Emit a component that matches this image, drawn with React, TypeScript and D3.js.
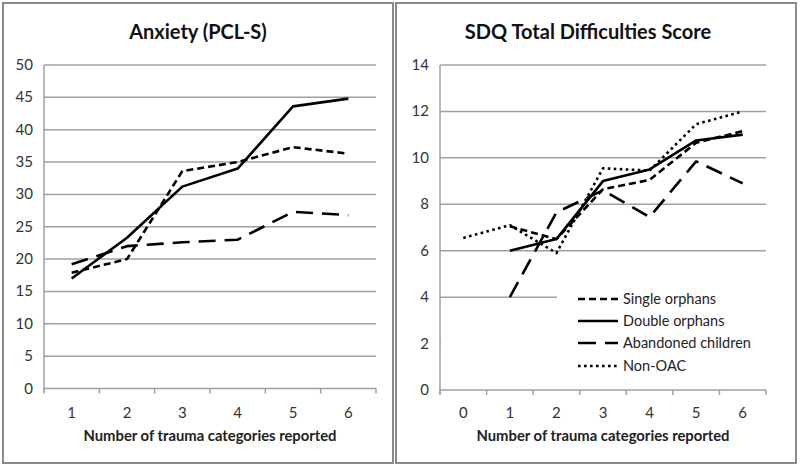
import React from "react";
import * as d3 from "d3";

const leftCategories = [1, 2, 3, 4, 5, 6];
const leftSingle = [17.9, 20.0, 33.6, 35.0, 37.3, 36.3];
const leftDouble = [17.0, 23.3, 31.2, 34.0, 43.6, 44.8];
const leftAbandoned = [19.2, 22.0, 22.6, 23.0, 27.3, 26.8];
const leftTicks = [0, 5, 10, 15, 20, 25, 30, 35, 40, 45, 50];

const rightCategories = [0, 1, 2, 3, 4, 5, 6];
const rightSingle: (number | null)[] = [null, 7.05, 6.5, 8.65, 9.05, 10.65, 11.15];
const rightDouble: (number | null)[] = [null, 6.0, 6.5, 9.0, 9.5, 10.75, 11.0];
const rightAbandoned: (number | null)[] = [null, 4.0, 7.65, 8.6, 7.45, 9.85, 8.9];
const rightNonOAC: (number | null)[] = [6.55, 7.1, 5.9, 9.55, 9.45, 11.45, 12.0];
const rightTicks = [0, 2, 4, 6, 8, 10, 12, 14];

const seriesNames = ["Single orphans", "Double orphans", "Abandoned children", "Non-OAC"];
const dashes = ["7,4", "none", "17,9", "2.6,3.4"];

const FONT = "Lato, 'Open Sans', sans-serif";
const GRID = "#a0a0a0";

type Panel = {
  x0: number; x1: number; plotL: number; plotR: number; yTop: number; yBot: number;
  cats: number[]; max: number; ticks: number[]; title: string; titleX: number;
  series: { vals: (number | null)[]; idx: number }[];
};

function Chart({ p }: { p: Panel }) {
  const x = d3.scaleBand<number>().domain(p.cats).range([p.plotL, p.plotR]);
  const y = d3.scaleLinear().domain([0, p.max]).range([p.yBot, p.yTop]);
  const cx = (c: number) => (x(c) ?? 0) + x.bandwidth() / 2;
  const line = d3
    .line<[number, number | null]>()
    .defined((d) => d[1] != null)
    .x((d) => cx(d[0]))
    .y((d) => y(d[1] as number));
  const bounds = [...p.cats.map((c) => x(c) ?? 0), p.plotR];
  return (
    <g>
      <rect x={p.x0} y={3} width={p.x1 - p.x0} height={460} fill="#fff" stroke="#8a8a8a" strokeWidth={2} />
      <text x={p.titleX} y={39} textAnchor="middle" fontFamily={FONT} fontWeight="bold" fontSize={20} fill="#111">
        {p.title}
      </text>
      {p.ticks.map((t) =>
        t === 0 ? null : (
          <line key={"g" + t} x1={p.plotL} x2={p.plotR} y1={y(t)} y2={y(t)} stroke={GRID} strokeWidth={1.5} />
        )
      )}
      <line x1={p.plotL} x2={p.plotL} y1={p.yTop} y2={p.yBot + 4} stroke={GRID} strokeWidth={1.5} />
      <line x1={p.plotL} x2={p.plotR} y1={p.yBot} y2={p.yBot} stroke={GRID} strokeWidth={1.5} />
      {bounds.map((b, i) => (
        <line key={"t" + i} x1={b} x2={b} y1={p.yBot} y2={p.yBot + 5} stroke={GRID} strokeWidth={1.5} />
      ))}
      {p.ticks.map((t) => (
        <text key={"yl" + t} x={p.plotL - 11} y={y(t) + 5} textAnchor="end" fontFamily={FONT} fontSize={15} fill="#333">
          {t}
        </text>
      ))}
      {p.cats.map((c) => (
        <text key={"xl" + c} x={cx(c)} y={418} textAnchor="middle" fontFamily={FONT} fontSize={15} fill="#333">
          {c}
        </text>
      ))}
      <text x={(p.plotL + p.plotR) / 2} y={441} textAnchor="middle" fontFamily={FONT} fontWeight="bold" fontSize={14.8} fill="#222">
        Number of trauma categories reported
      </text>
      {p.series.map((s) => (
        <path
          key={"s" + s.idx}
          d={line(p.cats.map((c, i) => [c, s.vals[i]] as [number, number | null])) ?? ""}
          fill="none"
          stroke="#000"
          strokeWidth={2.6}
          strokeDasharray={dashes[s.idx]}
          strokeLinejoin="round"
        />
      ))}
    </g>
  );
}

export default function App() {
  const left: Panel = {
    x0: 3, x1: 393, plotL: 44, plotR: 376, yTop: 65, yBot: 388.5,
    cats: leftCategories, max: 50, ticks: leftTicks, title: "Anxiety (PCL-S)", titleX: 198,
    series: [
      { vals: leftSingle, idx: 0 },
      { vals: leftDouble, idx: 1 },
      { vals: leftAbandoned, idx: 2 },
    ],
  };
  const right: Panel = {
    x0: 396, x1: 796, plotL: 440, plotR: 766, yTop: 65, yBot: 390,
    cats: rightCategories, max: 14, ticks: rightTicks, title: "SDQ Total Difficulties Score", titleX: 588,
    series: [
      { vals: rightSingle, idx: 0 },
      { vals: rightDouble, idx: 1 },
      { vals: rightAbandoned, idx: 2 },
      { vals: rightNonOAC, idx: 3 },
    ],
  };
  const legY = [299, 321, 343, 366];
  return (
    <svg width={800} height={468} style={{ position: "absolute", left: 0, top: 0 }}>
      <rect width={800} height={468} fill="#fff" />
      <Chart p={left} />
      <Chart p={right} />
      {/* legend background */}
      <rect x={557} y={270} width={212} height={118} fill="#fff" />
      <rect x={441} y={312} width={120} height={76} fill="#fff" />
      {seriesNames.map((n, i) => (
        <g key={n}>
          <line x1={578} x2={618} y1={legY[i]} y2={legY[i]} stroke="#000" strokeWidth={2.6}
            strokeDasharray={i === 2 ? "18,9" : dashes[i]} />
          <text x={623} y={legY[i] + 5} fontFamily={FONT} fontSize={14.5} fill="#222">
            {n}
          </text>
        </g>
      ))}
    </svg>
  );
}
